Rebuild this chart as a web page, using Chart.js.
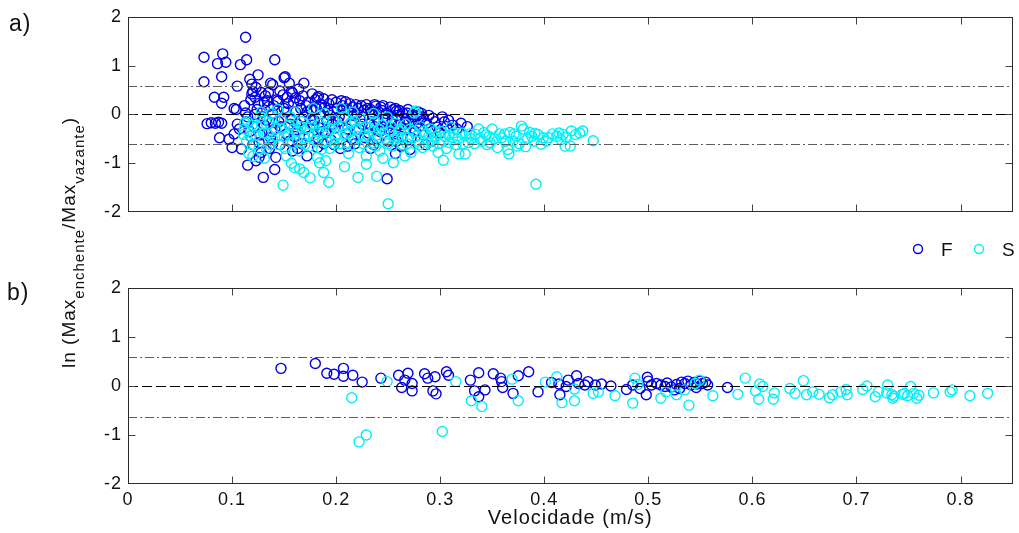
<!DOCTYPE html>
<html lang="pt-br">
<head>
<meta charset="UTF-8">
<title>ln (Max enchente / Max vazante) x Velocidade</title>
<script src="https://cdn.jsdelivr.net/npm/chart.js"></script>
<style>
    body { margin: 0; background: #fff; }
    #janela { position: relative; width: 1019px; height: 533px; overflow: hidden; font-family: Arial, "Liberation Sans", sans-serif; }
    #wrapA { position: absolute; left: 0; top: 0; width: 1019px; height: 240px; }
    #wrapB { position: absolute; left: 0; top: 240px; width: 1019px; height: 293px; }
    #tituloY {
        position: absolute; left: 59px; top: 368px;
        transform: rotate(-90deg); transform-origin: 0 0;
        white-space: nowrap; font-size: 19px; line-height: 19px; letter-spacing: 1px; color: #111;
    }
    #tituloY span { position: relative; top: 9px; font-size: 15px; }
</style>
</head>
<body>
<div id="janela">
    <div id="wrapA"><canvas id="painelA"></canvas></div>
    <div id="wrapB"><canvas id="painelB"></canvas></div>
    <div id="tituloY">ln (Max<span>enchente</span>/Max<span>vazante</span>)</div>
</div>

<script>
// eixos
const xTicks = [0, 0.1, 0.2, 0.3, 0.4, 0.5, 0.6, 0.7, 0.8];
const yTicks = [-2, -1, 0, 1, 2];

// painel a) - pares [velocidade, ln(razao)]
const topoF = [
    [0.073, 1.17], [0.091, 1.24], [0.086, 1.04], [0.094, 1.07], [0.108, 1.02], [0.114, 1.12], [0.113, 1.58], [0.141, 1.12],
    [0.090, 0.77], [0.073, 0.67], [0.105, 0.58], [0.117, 0.72], [0.119, 0.62], [0.125, 0.81], [0.137, 0.64], [0.150, 0.75],
    [0.155, 0.64], [0.169, 0.64], [0.083, 0.35], [0.092, 0.35], [0.090, 0.23], [0.102, 0.12], [0.113, 0.03], [0.120, 0.47],
    [0.122, 0.35], [0.131, 0.24], [0.144, 0.27], [0.158, 0.44], [0.161, 0.34], [0.182, 0.34], [0.185, 0.21], [0.151, 0.77],
    [0.139, 0.61], [0.157, 0.47], [0.183, 0.37], [0.104, 0.10],
    [0.076, -0.19], [0.080, -0.17], [0.084, -0.18], [0.087, -0.16], [0.090, -0.18], [0.105, -0.20], [0.097, -0.51], [0.100, -0.68],
    [0.109, -0.71], [0.115, -1.04], [0.102, -0.40], [0.107, -0.30], [0.088, -0.48], [0.126, -0.88], [0.130, -1.29], [0.141, -1.13],
    [0.249, -1.32], [0.123, -0.95], [0.128, -0.78], [0.120, -0.62],
    [0.112, 0.18], [0.115, -0.05], [0.118, 0.30], [0.121, -0.25], [0.124, 0.10], [0.127, -0.42], [0.129, 0.05], [0.126, -0.58],
    [0.117, -0.35], [0.132, 0.38], [0.119, 0.42], [0.123, 0.55], [0.128, 0.45],
    [0.133, -0.12], [0.135, 0.16], [0.137, -0.48], [0.139, 0.02], [0.141, -0.30], [0.143, 0.30], [0.146, -0.62], [0.148, -0.08],
    [0.150, 0.12], [0.152, -0.40], [0.154, 0.22], [0.156, -0.20], [0.158, -0.75], [0.146, 0.48], [0.136, -0.70], [0.142, -0.88],
    [0.155, -0.55],
    [0.161, 0.05], [0.163, -0.32], [0.165, 0.28], [0.167, -0.60], [0.169, -0.05], [0.171, 0.18], [0.174, -0.45], [0.176, 0.10],
    [0.178, -0.22], [0.180, 0.30], [0.182, -0.68], [0.185, 0.00], [0.187, -0.35], [0.189, 0.15], [0.172, -0.85], [0.164, 0.52],
    [0.177, 0.42],
    [0.191, -0.12], [0.193, 0.22], [0.195, -0.52], [0.197, 0.05], [0.199, -0.28], [0.201, 0.12], [0.204, -0.70], [0.206, 0.18],
    [0.208, -0.08], [0.210, -0.40], [0.212, 0.08], [0.214, -0.18], [0.216, 0.15], [0.218, -0.60], [0.220, 0.02], [0.196, 0.30],
    [0.209, 0.26],
    [0.222, -0.30], [0.224, 0.18], [0.226, -0.05], [0.228, -0.48], [0.230, 0.12], [0.232, -0.20], [0.234, 0.05], [0.236, -0.62],
    [0.238, 0.17], [0.240, -0.12], [0.242, -0.35], [0.244, 0.08], [0.246, -0.25], [0.248, 0.02], [0.250, -0.55], [0.252, 0.15],
    [0.237, 0.20],
    [0.254, -0.10], [0.256, -0.40], [0.258, 0.07], [0.260, -0.22], [0.262, -0.65], [0.264, 0.03], [0.266, -0.30], [0.268, 0.03],
    [0.270, -0.15], [0.272, -0.48], [0.274, -0.05], [0.276, -0.35], [0.278, -0.02], [0.280, -0.25], [0.257, -0.80], [0.271, -0.72],
    [0.281, -0.10], [0.284, -0.42], [0.287, -0.18], [0.290, -0.30], [0.293, -0.08], [0.297, -0.26], [0.300, -0.38], [0.304, -0.15],
    [0.308, -0.12], [0.312, -0.22], [0.316, -0.30], [0.320, -0.18], [0.326, -0.25], [0.292, -0.55], [0.286, -0.62],
    [0.114, -0.15], [0.118, -0.45], [0.122, 0.00], [0.131, -0.22], [0.134, 0.28], [0.138, -0.35], [0.144, 0.08], [0.147, -0.25],
    [0.153, 0.35], [0.157, -0.10], [0.160, -0.45], [0.166, 0.12], [0.170, -0.30], [0.173, 0.25], [0.179, -0.12], [0.183, -0.50],
    [0.186, 0.20], [0.190, -0.38], [0.194, -0.02], [0.198, -0.62], [0.202, -0.15], [0.205, 0.28], [0.211, -0.30], [0.215, -0.50],
    [0.219, 0.20], [0.223, -0.10], [0.227, 0.08], [0.231, -0.38], [0.235, -0.02], [0.239, -0.50], [0.243, 0.15], [0.247, -0.12],
    [0.251, -0.30], [0.255, 0.10], [0.259, -0.02], [0.263, -0.45], [0.267, -0.10], [0.273, 0.00], [0.277, -0.20], [0.282, 0.02],
    [0.125, 0.22], [0.130, -0.05], [0.135, 0.45], [0.140, 0.18], [0.145, -0.15], [0.149, 0.40], [0.152, 0.05], [0.159, 0.25],
    [0.162, -0.20], [0.168, 0.38], [0.172, 0.05], [0.175, -0.10], [0.181, 0.12], [0.184, -0.28], [0.188, 0.32], [0.192, 0.08],
    [0.196, -0.20], [0.200, 0.25], [0.203, -0.05], [0.207, 0.10], [0.213, 0.22], [0.217, -0.02], [0.221, 0.12], [0.225, -0.20],
    [0.229, 0.20], [0.233, 0.10], [0.237, -0.25], [0.241, 0.05], [0.245, 0.18], [0.249, -0.08], [0.253, -0.18], [0.257, 0.12],
    [0.261, 0.08], [0.265, -0.20], [0.269, 0.10], [0.275, -0.12], [0.279, 0.05], [0.283, -0.05], [0.289, -0.02], [0.295, -0.15],
    [0.302, -0.05], [0.306, -0.25], [0.139, -0.60], [0.163, -0.70], [0.188, -0.60], [0.211, -0.65], [0.233, -0.70], [0.258, -0.55]
];
const topoS = [
    [0.149, -1.45], [0.175, -1.30], [0.193, -1.39], [0.160, -1.09], [0.169, -1.19], [0.184, -0.99], [0.188, -1.19], [0.208, -1.07],
    [0.221, -1.29], [0.239, -1.27], [0.250, -1.83], [0.229, -1.02], [0.255, -0.99], [0.120, -0.86], [0.392, -1.43], [0.303, -0.94],
    [0.165, -1.12],
    [0.112, -0.30], [0.115, -0.15], [0.118, -0.45], [0.121, -0.62], [0.124, -0.25], [0.127, -0.05], [0.130, -0.38], [0.133, -0.70],
    [0.136, -0.18], [0.139, -0.52], [0.116, -0.80], [0.131, -0.90], [0.128, 0.05], [0.138, 0.02], [0.111, -0.41], [0.112, -0.17],
    [0.142, -0.30], [0.145, -0.62], [0.147, -0.10], [0.150, -0.45], [0.152, -0.85], [0.155, -0.22], [0.158, -0.58], [0.160, 0.05],
    [0.162, -0.35], [0.165, -0.75], [0.167, -0.15], [0.169, -0.48], [0.144, 0.10], [0.157, -1.00],
    [0.172, -0.28], [0.174, -0.65], [0.177, -0.08], [0.179, -0.42], [0.182, -0.88], [0.184, -0.20], [0.187, -0.55], [0.189, 0.02],
    [0.192, -0.35], [0.194, -0.70], [0.197, -0.12], [0.199, -0.48], [0.178, 0.12], [0.190, -0.95],
    [0.202, -0.25], [0.204, -0.60], [0.207, -0.05], [0.209, -0.40], [0.212, -0.80], [0.214, -0.18], [0.217, -0.52], [0.219, -0.30],
    [0.222, -0.68], [0.224, -0.10], [0.227, -0.45], [0.229, -0.85], [0.205, 0.12], [0.216, 0.05],
    [0.232, -0.28], [0.234, -0.58], [0.237, -0.15], [0.239, -0.42], [0.242, -0.75], [0.244, -0.22], [0.247, -0.50], [0.249, -0.05],
    [0.252, -0.35], [0.254, -0.65], [0.257, -0.18], [0.259, -0.45], [0.245, -0.90], [0.236, 0.02],
    [0.262, -0.30], [0.264, -0.62], [0.267, -0.20], [0.269, -0.48], [0.272, -0.78], [0.274, -0.35], [0.276, 0.07], [0.278, -0.55],
    [0.281, -0.25], [0.283, -0.68], [0.286, -0.40], [0.288, -0.58], [0.275, 0.03], [0.266, -0.85],
    [0.291, -0.30], [0.293, -0.65], [0.296, -0.45], [0.298, -0.78], [0.301, -0.35], [0.303, -0.55], [0.306, -0.70], [0.308, -0.42],
    [0.310, -0.27], [0.312, -0.48], [0.315, -0.62], [0.318, -0.81], [0.321, -0.38], [0.324, -0.44], [0.324, -0.81], [0.327, -0.58],
    [0.330, -0.50],
    [0.334, -0.41], [0.337, -0.30], [0.340, -0.55], [0.342, -0.37], [0.345, -0.62], [0.347, -0.45], [0.350, -0.30], [0.352, -0.50],
    [0.355, -0.68], [0.359, -0.48], [0.362, -0.40], [0.366, -0.81], [0.365, -0.72], [0.367, -0.37], [0.370, -0.55], [0.373, -0.45],
    [0.376, -0.60], [0.378, -0.24], [0.380, -0.30], [0.382, -0.66], [0.384, -0.50], [0.386, -0.37], [0.391, -0.39], [0.390, -0.55],
    [0.394, -0.41], [0.397, -0.61], [0.399, -0.48], [0.404, -0.48], [0.408, -0.40], [0.412, -0.45], [0.416, -0.52], [0.418, -0.41],
    [0.420, -0.65], [0.421, -0.46], [0.425, -0.65], [0.426, -0.34], [0.430, -0.41], [0.434, -0.38], [0.437, -0.34], [0.447, -0.54],
    [0.114, -0.55], [0.119, -0.22], [0.123, -0.42], [0.126, -0.70], [0.129, -0.20], [0.134, -0.40], [0.137, -0.62], [0.141, -0.08],
    [0.143, -0.45], [0.148, -0.30], [0.151, -0.70], [0.154, -0.40], [0.156, -0.05], [0.159, -0.30], [0.163, -0.55], [0.166, -0.25],
    [0.170, -0.62], [0.173, -0.40], [0.176, -0.20], [0.180, -0.55], [0.183, -0.35], [0.186, -0.72], [0.188, -0.25], [0.191, -0.55],
    [0.195, -0.30], [0.198, -0.60], [0.201, -0.40], [0.206, -0.25], [0.210, -0.58], [0.213, -0.35], [0.218, -0.15], [0.221, -0.45],
    [0.226, -0.60], [0.228, -0.25], [0.231, -0.45], [0.235, -0.35], [0.238, -0.65], [0.241, -0.30], [0.246, -0.38], [0.250, -0.60],
    [0.253, -0.25], [0.256, -0.52], [0.260, -0.35], [0.263, -0.48], [0.268, -0.60], [0.271, -0.30], [0.277, -0.45], [0.280, -0.62],
    [0.284, -0.35], [0.289, -0.45], [0.292, -0.55], [0.295, -0.35], [0.299, -0.60], [0.305, -0.45], [0.309, -0.58], [0.313, -0.38],
    [0.317, -0.50], [0.322, -0.60], [0.328, -0.40], [0.333, -0.60], [0.338, -0.50], [0.344, -0.42], [0.348, -0.58], [0.357, -0.40],
    [0.363, -0.55], [0.371, -0.40], [0.374, -0.65], [0.388, -0.45], [0.402, -0.55], [0.414, -0.38]
];

// painel b)
const baseF = [
    [0.147, 0.36], [0.180, 0.46], [0.191, 0.26], [0.198, 0.24], [0.207, 0.36], [0.207, 0.20], [0.216, 0.22], [0.225, 0.08],
    [0.243, 0.16], [0.260, 0.22], [0.269, 0.26], [0.266, 0.12], [0.263, -0.03], [0.273, 0.05], [0.273, -0.10], [0.285, 0.25],
    [0.288, 0.16], [0.295, 0.19], [0.293, -0.10], [0.296, -0.16], [0.306, 0.29], [0.308, 0.22], [0.329, 0.12], [0.337, 0.27],
    [0.333, -0.10], [0.343, -0.08], [0.337, -0.22], [0.351, 0.25], [0.358, 0.16], [0.359, 0.09], [0.360, -0.03], [0.370, -0.15],
    [0.375, 0.21], [0.385, 0.29], [0.394, -0.12], [0.407, 0.07], [0.414, 0.04], [0.415, -0.18], [0.421, -0.01], [0.423, 0.12],
    [0.431, 0.21], [0.433, 0.05], [0.439, 0.02], [0.442, 0.09], [0.449, 0.02], [0.455, 0.04], [0.464, 0.00], [0.479, -0.07],
    [0.485, 0.02], [0.492, -0.05], [0.499, 0.18], [0.500, 0.10], [0.498, -0.18], [0.503, 0.02], [0.508, 0.05], [0.512, 0.02],
    [0.516, -0.01], [0.518, 0.06], [0.522, -0.02], [0.525, -0.08], [0.527, 0.03], [0.530, -0.05], [0.532, 0.08], [0.535, 0.05],
    [0.538, 0.10], [0.541, 0.02], [0.544, 0.07], [0.546, -0.03], [0.547, 0.04], [0.550, 0.10], [0.552, 0.05], [0.555, 0.08],
    [0.557, 0.02], [0.576, -0.03]
];
const baseS = [
    [0.215, -0.24], [0.222, -1.14], [0.229, -1.00], [0.249, 0.09], [0.302, -0.93], [0.315, 0.09], [0.330, -0.30], [0.340, -0.42],
    [0.369, 0.14], [0.375, -0.30], [0.401, 0.08], [0.412, 0.19], [0.417, -0.34], [0.429, -0.30], [0.429, -0.06], [0.447, -0.15],
    [0.452, -0.12], [0.468, -0.20], [0.485, -0.35], [0.487, 0.16], [0.490, 0.03], [0.512, -0.25], [0.517, -0.12], [0.527, -0.18],
    [0.535, -0.08], [0.539, -0.39], [0.545, 0.05], [0.549, 0.12], [0.562, -0.20], [0.586, -0.17], [0.593, 0.16], [0.603, -0.10],
    [0.607, 0.04], [0.610, -0.01], [0.606, -0.27], [0.620, -0.27], [0.621, -0.14], [0.636, -0.05], [0.641, -0.15], [0.649, 0.11],
    [0.652, -0.18], [0.658, -0.12], [0.664, -0.17], [0.674, -0.24], [0.677, -0.18], [0.685, -0.12], [0.690, -0.07], [0.691, -0.18],
    [0.706, -0.07], [0.710, 0.00], [0.718, -0.22], [0.721, -0.12], [0.730, 0.02], [0.729, -0.14], [0.734, -0.18], [0.735, -0.25],
    [0.736, -0.21], [0.744, -0.17], [0.746, -0.15], [0.749, -0.20], [0.752, -0.01], [0.755, -0.15], [0.758, -0.25], [0.760, -0.19],
    [0.774, -0.14], [0.790, -0.12], [0.792, -0.08], [0.809, -0.20], [0.826, -0.15]
];

// linhas de referencia (0 e limites)
const limitesA = [0.59, -0.60];
const limitesB = [0.59, -0.63];

const corF = 'rgb(0, 0, 228)';
const corS = 'rgb(0, 240, 250)';
const corTexto = '#111';
const fonte = 'Arial, "Liberation Sans", sans-serif';

Chart.defaults.font.family = fonte;
Chart.defaults.color = corTexto;

// moldura, marcas internas, linhas tracejadas, rotulos a)/b) e legenda
const moldura = {
    id: 'moldura',
    beforeDraw(chart) {
        chart.ctx.letterSpacing = '1px';
    },
    afterDatasetsDraw(chart, args, o) {
        const { ctx, chartArea: a, scales: { y } } = chart;
        ctx.save();
        ctx.lineWidth = 1.1;
        const linhas = [
            { v: 0, cor: '#000', traco: [10, 4] },
            { v: o.limites[0], cor: '#5e5e5e', traco: [9, 3, 2, 3] },
            { v: o.limites[1], cor: '#5e5e5e', traco: [9, 3, 2, 3] }
        ];
        linhas.forEach(l => {
            const py = Math.round(y.getPixelForValue(l.v)) + 0.5;
            ctx.strokeStyle = l.cor;
            ctx.setLineDash(l.traco);
            ctx.beginPath();
            ctx.moveTo(a.left, py);
            ctx.lineTo(a.right, py);
            ctx.stroke();
        });
        ctx.restore();
    },
    afterDraw(chart, args, o) {
        const { ctx, chartArea: a, scales: { x, y } } = chart;
        const L = Math.round(a.left) + 0.5, R = Math.round(a.right) - 0.5;
        const T = Math.round(a.top) + 0.5, B = Math.round(a.bottom) - 0.5;
        ctx.save();
        ctx.lineWidth = 1;
        ctx.strokeStyle = '#444';
        ctx.beginPath();
        xTicks.forEach(v => {
            const px = Math.round(x.getPixelForValue(v)) + 0.5;
            if (px <= L + 1 || px >= R - 1) return;
            ctx.moveTo(px, B); ctx.lineTo(px, B - 7);
            ctx.moveTo(px, T); ctx.lineTo(px, T + 7);
        });
        yTicks.forEach(v => {
            const py = Math.round(y.getPixelForValue(v)) + 0.5;
            if (py <= T + 1 || py >= B - 1) return;
            ctx.moveTo(L, py); ctx.lineTo(L + 7, py);
            ctx.moveTo(R, py); ctx.lineTo(R - 7, py);
        });
        ctx.stroke();
        ctx.strokeStyle = '#2b2b2b';
        ctx.strokeRect(L, T, R - L, B - T);

        ctx.fillStyle = corTexto;
        ctx.textBaseline = 'alphabetic';
        ctx.textAlign = 'left';
        ctx.font = '23px ' + fonte;
        ctx.fillText(o.rotulo[0], o.rotulo[1], o.rotulo[2]);

        if (o.legenda) {
            ctx.font = '19px ' + fonte;
            chart.data.datasets.forEach((ds, i) => {
                const cx = o.legenda.x[i], cy = o.legenda.y;
                ctx.strokeStyle = ds.pointBorderColor;
                ctx.lineWidth = 1.4;
                ctx.beginPath();
                ctx.arc(cx, cy, 4.5, 0, Math.PI * 2);
                ctx.stroke();
                ctx.fillText(ds.label, cx + 23, cy + 7);
            });
        }
        ctx.restore();
    }
};

function serie(rotulo, pares, cor, ordem) {
    return {
        label: rotulo,
        data: pares.map(p => ({ x: p[0], y: p[1] })),
        showLine: false,
        pointStyle: 'circle',
        pointRadius: 5,
        pointBorderWidth: 1.4,
        pointBorderColor: cor,
        pointBackgroundColor: 'rgba(0,0,0,0)',
        order: ordem
    };
}

function montarPainel(id, f, s, cfg) {
    return new Chart(document.getElementById(id), {
        type: 'scatter',
        data: { datasets: [serie('F', f, corF, 1), serie('S', s, corS, 0)] },
        options: {
            responsive: true,
            maintainAspectRatio: false,
            animation: false,
            events: [],
            layout: { padding: { left: 0, top: cfg.topo, right: 3, bottom: 0 } },
            plugins: {
                legend: { display: false },
                tooltip: { enabled: false },
                moldura: { limites: cfg.limites, rotulo: cfg.rotulo, legenda: cfg.legenda }
            },
            scales: {
                x: {
                    type: 'linear', min: 0, max: 0.85,
                    afterBuildTicks: sc => { sc.ticks = xTicks.map(v => ({ value: v })); },
                    afterFit: sc => { sc.height = cfg.alturaX; },
                    ticks: { display: cfg.mostraX, padding: 5, color: corTexto, font: { size: 18 }, callback: v => String(v) },
                    grid: { display: false, drawTicks: false },
                    border: { display: false },
                    title: {
                        display: cfg.mostraX, text: 'Velocidade (m/s)', color: corTexto,
                        font: { size: 20 }, padding: { top: 0, bottom: 3 }
                    }
                },
                y: {
                    type: 'linear', min: -2, max: 2,
                    afterBuildTicks: sc => { sc.ticks = yTicks.map(v => ({ value: v })); },
                    afterFit: sc => { sc.width = 128; },
                    ticks: { padding: 6, color: corTexto, font: { size: 18 }, callback: v => String(v) },
                    grid: { display: false, drawTicks: false },
                    border: { display: false }
                }
            }
        },
        plugins: [moldura]
    });
}

montarPainel('painelA', topoF, topoS, {
    topo: 15, alturaX: 28, mostraX: false, limites: limitesA, rotulo: ['a)', 9, 31]
});
montarPainel('painelB', baseF, baseS, {
    topo: 48, alturaX: 49, mostraX: true, limites: limitesB, rotulo: ['b)', 7, 60],
    legenda: { x: [918, 979], y: 9 }
});
</script>
</body>
</html>
